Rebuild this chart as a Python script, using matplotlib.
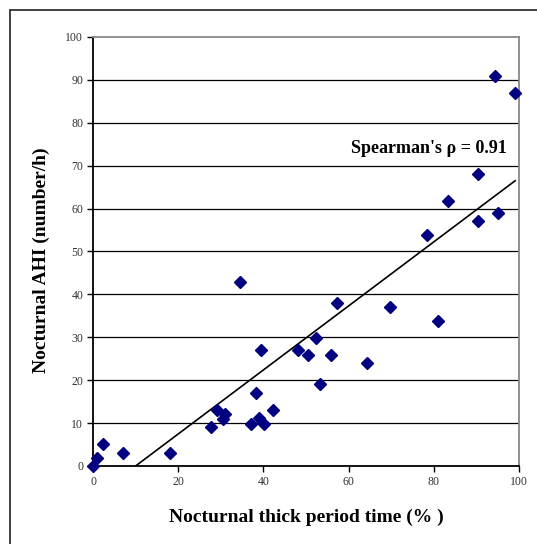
import numpy as np
import matplotlib.pyplot as plt
from matplotlib.patches import Rectangle

# porcentaje de tiempo en periodo "thick" vs AHI nocturno
thick_time = [0, 0.9, 2.3, 7.1, 18.1, 27.7, 29.1, 30.6, 31.0, 34.6, 37.2, 38.3, 39.0,
              40.1, 39.4, 42.3, 48.1, 50.4, 52.4, 53.4, 55.8, 57.3, 64.2, 69.7,
              78.5, 81.1, 83.3, 90.3, 90.3, 95.1, 94.4, 99.1]
ahi = [0, 1.9, 5.1, 3.0, 3.0, 9.2, 13.1, 10.9, 12.1, 43.0, 9.8, 17.1, 11.1,
       9.8, 27.0, 13.1, 27.0, 25.8, 29.8, 19.0, 25.9, 37.9, 24.1, 37.1,
       53.8, 33.9, 61.8, 68.0, 57.1, 58.9, 90.9, 86.9]
fit_x = [10, 99.1]
fit_y = [0, 66.5]
rho_text = "Spearman's \u03c1 = 0.91"

plt.rcParams['font.family'] = ['Liberation Serif', 'DejaVu Serif']

fig = plt.figure(figsize=(5.37, 5.44), dpi=100)
ax = fig.add_axes([0.1732, 0.1434, 0.7933, 0.7886])

# marco alrededor de la figura
fig.patches.append(Rectangle((10/537, -0.05), 1.5, 1.05 - 10/544, transform=fig.transFigure,
                             fill=False, ec='#333333', lw=1.3))

ax.set_xlim(0, 100)
ax.set_ylim(0, 100)
ax.set_yticks(np.arange(0, 101, 10))
ax.set_xticks(np.arange(0, 101, 20))
for y in range(10, 100, 10):
    ax.axhline(y, color='black', lw=0.9, zorder=1)

ax.plot(fit_x, fit_y, color='black', lw=1.2, zorder=2)
ax.plot(thick_time, ahi, 'D', color='#000080', ms=6, zorder=3, clip_on=False)

ax.text(97.2, 74.1, rho_text, ha='right', va='center', fontsize=13, fontweight='bold')

for s in ['top', 'right']:
    ax.spines[s].set_color('#888888')
    ax.spines[s].set_linewidth(1.3)
for s in ['left', 'bottom']:
    ax.spines[s].set_color('black')
    ax.spines[s].set_linewidth(1.3)

ax.tick_params(axis='both', direction='out', length=4, width=1, labelsize=8.5,
               labelcolor='#333333', pad=3)
ax.set_xlabel('Nocturnal thick period time (% )', fontsize=14, fontweight='bold', labelpad=15)
ax.set_ylabel('Nocturnal AHI (number/h)', fontsize=14, fontweight='bold')
ax.yaxis.set_label_coords(-0.10, 0.48)

fig.savefig('out.png', dpi=100)
